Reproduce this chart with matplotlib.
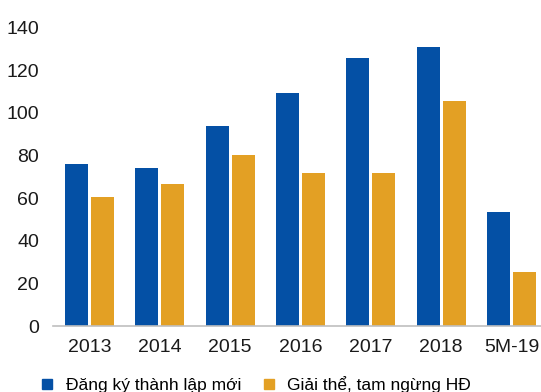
import matplotlib
matplotlib.use("Agg")
import matplotlib.pyplot as plt
from matplotlib.lines import Line2D
import numpy as np

plt.rcParams['font.family'] = ['Liberation Sans', 'DejaVu Sans']

# Số doanh nghiệp (nghìn) theo năm
categories = ["2013", "2014", "2015", "2016", "2017", "2018", "5M-19"]
dang_ky_moi = [76.2, 74.3, 94.0, 109.1, 125.9, 130.6, 53.7]
giai_the = [60.3, 66.8, 80.0, 72.0, 71.6, 105.3, 25.2]
series_names = ["Đăng ký thành lập mới", "Giải thể, tam ngừng HĐ"]
y_ticks = [0, 20, 40, 60, 80, 100, 120, 140]

BLUE = "#0450A5"
ORANGE = "#E3A024"

fig = plt.figure(figsize=(5.41, 3.92), dpi=100)
ax = fig.add_axes([0.098, 0.168, 0.902, 0.762])

x = np.arange(len(categories))
w = 0.33
off = 0.185
ax.bar(x - off, dang_ky_moi, width=w, color=BLUE)
ax.bar(x + off, giai_the, width=w, color=ORANGE)

ax.set_xlim(-0.519, 6.42)
ax.set_ylim(0, 140)
ax.set_yticks(y_ticks)
ax.set_xticks(x)
ax.set_xticklabels(categories)
ax.tick_params(axis='both', length=0, labelsize=14, colors='#1a1a1a')
ax.tick_params(axis='x', pad=9)
ax.tick_params(axis='y', pad=10)

for s in ['top', 'right', 'left']:
    ax.spines[s].set_visible(False)
ax.spines['bottom'].set_color('#BFBFBF')
ax.spines['bottom'].set_linewidth(1.2)

handles = [
    Line2D([], [], marker='s', linestyle='none', markersize=7.5, color=BLUE),
    Line2D([], [], marker='s', linestyle='none', markersize=7.5, color=ORANGE),
]
fig.legend(handles, series_names, loc='center left', bbox_to_anchor=(0.078, 0.018),
           ncol=2, frameon=False, fontsize=12.5, handlelength=0.6,
           handletextpad=0.75, columnspacing=1.3, borderaxespad=0, borderpad=0)

fig.savefig("out.png", dpi=100)
